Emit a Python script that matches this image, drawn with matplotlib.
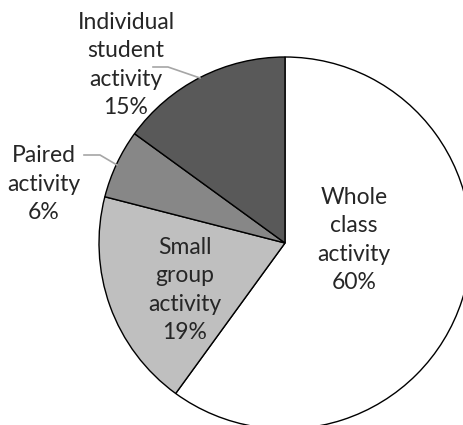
import matplotlib.pyplot as plt

# data
categories = ["Whole\nclass\nactivity", "Small\ngroup\nactivity", "Paired\nactivity",
              "Individual\nstudent\nactivity"]
shares = [60, 19, 6, 15]
colors = ["#FFFFFF", "#BFBFBF", "#878787", "#595959"]

plt.rcParams['font.family'] = ['Lato', 'DejaVu Sans']

fig = plt.figure(figsize=(4.64, 4.25), dpi=100)
ax = fig.add_axes([0, 0, 1, 1])

# pie in pixel coordinates (y flipped, so counterclock=True runs clockwise on screen)
wedges, _ = ax.pie(shares, colors=colors, startangle=-90, counterclock=True,
                   center=(285, 243), radius=186,
                   wedgeprops=dict(edgecolor='black', linewidth=1.0),
                   frame=True)
ax.set_xlim(0, 464)
ax.set_ylim(425, 0)
ax.set_aspect('equal')
ax.axis('off')

# label positions (layout only)
label_xy = [(354, 240), (185, 290), (44, 184), (126, 65)]
for name, val, (x, y) in zip(categories, shares, label_xy):
    ax.text(x, y, f"{name}\n{val}%", ha='center', va='center',
            fontsize=16.5, linespacing=1.42, color='#262626')

# leader lines
ax.plot([153, 168, 200], [67, 67, 78], color='#A6A6A6', lw=1.2)
ax.plot([84, 100, 117], [155, 155, 165], color='#A6A6A6', lw=1.2)

fig.savefig('out.png', dpi=100)
